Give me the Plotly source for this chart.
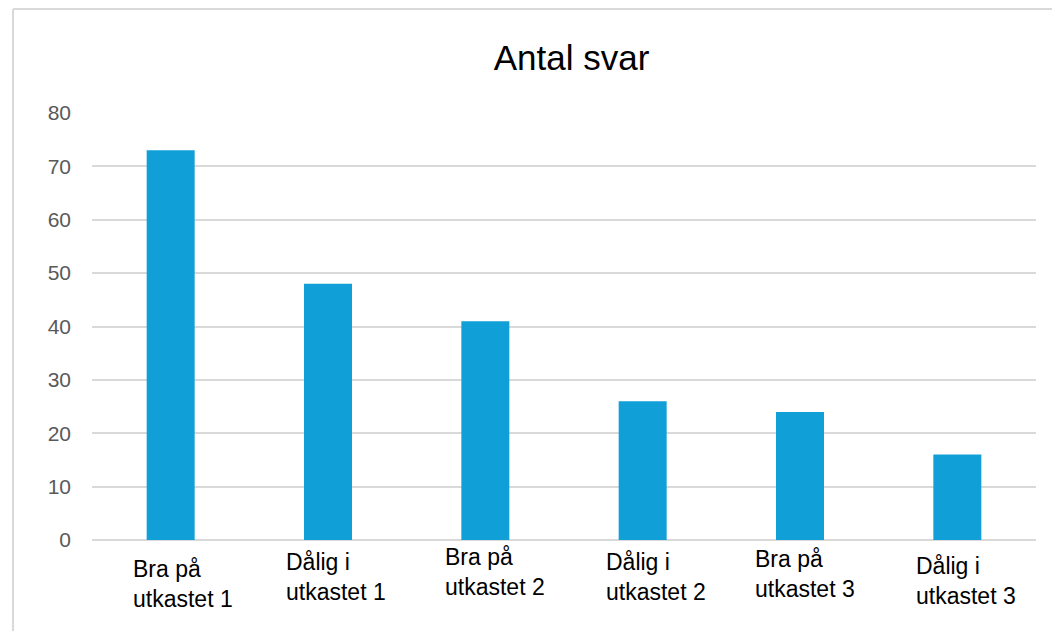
import plotly.graph_objects as go

categories = ["Bra på<br>utkastet 1", "Dålig i<br>utkastet 1", "Bra på<br>utkastet 2",
              "Dålig i<br>utkastet 2", "Bra på<br>utkastet 3", "Dålig i<br>utkastet 3"]
values = [73, 48, 41, 26, 24, 16]
y_ticks = [0, 10, 20, 30, 40, 50, 60, 70, 80]

# per-label offsets (style only) to mimic the staggered labels
label_yshift = [-14, -7, -2, -7, -4, -11]
label_xshift = [-40, -44, -42, -39, -47, -43]

FONT = "Liberation Sans, Arial, sans-serif"

fig = go.Figure()
fig.add_trace(go.Bar(
    x=categories, y=values,
    marker=dict(color="#119FD8", line=dict(width=0)),
    hoverinfo="x+y",
))

annotations = []
for c, xs, ys in zip(categories, label_xshift, label_yshift):
    annotations.append(dict(
        x=c, xref="x", y=0, yref="paper",
        text=c, showarrow=False, xanchor="left", yanchor="top", align="left",
        xshift=xs, yshift=ys,
        font=dict(family=FONT, size=23, color="#000000"),
    ))

fig.update_layout(
    width=1052, height=623,
    paper_bgcolor="white", plot_bgcolor="white",
    margin=dict(l=84, r=24, t=105, b=91),
    title=dict(text="Antal svar", x=0.508, xref="paper", y=0.92, yref="container",
               xanchor="center", yanchor="middle",
               font=dict(family=FONT, size=35, color="#000000")),
    bargap=0.695,
    showlegend=False,
    annotations=annotations,
    xaxis=dict(showticklabels=False, showgrid=False, showline=False, ticks="",
               zeroline=False),
    yaxis=dict(range=[0, 80], tickvals=y_ticks, showgrid=True, gridcolor="#D9D9D9",
               gridwidth=2, zeroline=True, zerolinecolor="#D9D9D9", zerolinewidth=2,
               showline=False, ticks="", ticklabelstandoff=20,
               tickfont=dict(family=FONT, size=21, color="#595959")),
    shapes=[
        dict(type="line", xref="paper", yref="paper", x0=-0.0837, x1=1.03, y0=1.2436, y1=1.2436,
             line=dict(color="#D9D9D9", width=2)),
        dict(type="line", xref="paper", yref="paper", x0=-0.0837, x1=-0.0837, y0=1.2436, y1=-0.25,
             line=dict(color="#D9D9D9", width=2)),
    ],
)

fig.write_html("out.html")
